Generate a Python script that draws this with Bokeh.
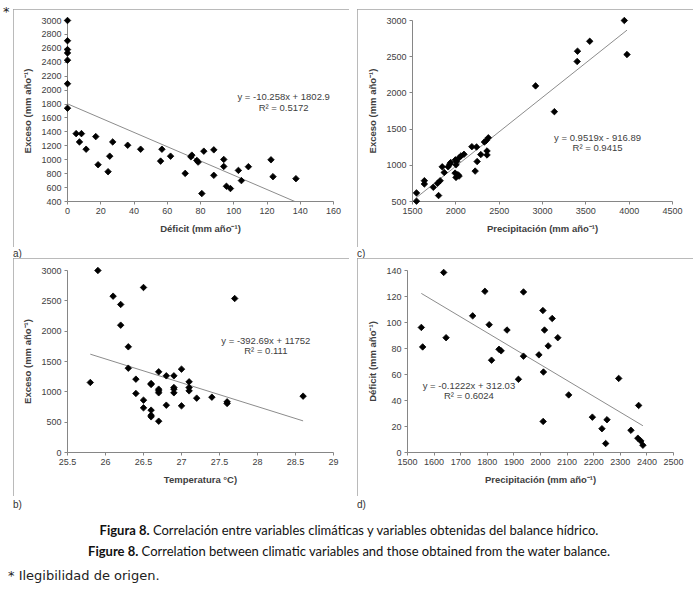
import numpy as np
from bokeh.plotting import figure
from bokeh.models import Range1d, FixedTicker, Label, Div, Spacer
from bokeh.layouts import column, row
from bokeh.embed import file_html
from bokeh.resources import INLINE

# ---------------- data ----------------
# a) Deficit vs Exceso
a_deficit = [0, 0, 0, 0, 0, 0, 0, 5.2, 8.4, 7.2, 11.2, 17, 18.4, 25.4, 24.4, 27.2, 36.2, 44,
             56.8, 56, 62, 70.8, 74.2, 74.8, 77.8, 78.6, 82, 80.8, 88, 88, 94, 94, 95.6, 98,
             102.8, 104.6, 108.8, 122.4, 123.6, 137.4]
a_exceso = [3000, 2710, 2582, 2534, 2430, 2092, 1740, 1375, 1375, 1256, 1151, 1332, 928, 1051,
            828, 1256, 1208, 1151, 1151, 980, 1051, 804, 1042, 1066, 990, 966, 1123, 514, 1142,
            776, 1004, 904, 619, 586, 847, 700, 900, 999, 757, 728]
a_slope, a_intercept = -10.258, 1802.9
a_eq, a_r2 = "y = -10.258x + 1802.9", "R² = 0.5172"
a_xticks = [0, 20, 40, 60, 80, 100, 120, 140, 160]
a_yticks = [400, 600, 800, 1000, 1200, 1400, 1600, 1800, 2000, 2200, 2400, 2600, 2800, 3000]

# c) Precipitacion vs Exceso
c_prec = [1546, 1546, 1637, 1637, 1740, 1789, 1801, 1819, 1843, 1866, 1911, 1930, 1941, 1995,
          2002, 2010, 1991, 2002, 2025, 2037, 2040, 2060, 2094, 2185, 2239, 2246, 2223, 2288,
          2330, 2352, 2375, 2360, 2360, 2920, 3137, 3400, 3404, 3545, 3944, 3975]
c_exceso = [619, 505, 787, 742, 696, 751, 582, 787, 979, 901, 979, 1015, 1038, 1075, 1006,
            1052, 892, 833, 870, 851, 1107, 1130, 1152, 1257, 1253, 1052, 920, 1148, 1321,
            1344, 1380, 1198, 1143, 2097, 1741, 2434, 2576, 2713, 3000, 2530]
c_slope, c_intercept = 0.9519, -916.89
c_eq, c_r2 = "y = 0.9519x - 916.89", "R² = 0.9415"
c_xticks = [1500, 2000, 2500, 3000, 3500, 4000, 4500]
c_yticks = [500, 1000, 1500, 2000, 2500, 3000]

# b) Temperatura vs Exceso
b_temp = [25.8, 25.9, 26.1, 26.2, 26.2, 26.3, 26.3, 26.4, 26.4, 26.5, 26.5, 26.5, 26.6, 26.6,
          26.6, 26.6, 26.6, 26.7, 26.7, 26.7, 26.7, 26.7, 26.8, 26.8, 26.9, 26.9, 26.9, 26.9,
          27.0, 27.0, 27.1, 27.1, 27.1, 27.2, 27.4, 27.6, 27.6, 27.7, 28.6]
b_exceso = [1154, 3000, 2577, 2440, 2099, 1742, 1390, 1209, 973, 2720, 863, 736, 1137, 1121,
            698, 615, 588, 1330, 1044, 1016, 984, 516, 1264, 780, 1264, 1071, 1044, 984, 1374,
            769, 1165, 1071, 1016, 896, 912, 835, 808, 2538, 929]
b_slope, b_intercept = -392.69, 11752
b_eq, b_r2 = "y = -392.69x + 11752", "R² = 0.111"
b_xticks = [25.5, 26, 26.5, 27, 27.5, 28, 28.5, 29]
b_yticks = [0, 500, 1000, 1500, 2000, 2500, 3000]

# d) Precipitacion vs Deficit
d_prec = [1552, 1557, 1636, 1645, 1745, 1791, 1807, 1816, 1844, 1852, 1874, 1917, 1936, 1936,
          1994, 2009, 2015, 2011, 2029, 2044, 2065, 2010, 2106, 2195, 2231, 2245, 2250, 2294,
          2340, 2369, 2366, 2377, 2385]
d_deficit = [96.2, 81.2, 138.5, 88.3, 105.1, 124.0, 98.3, 71.0, 79.4, 78.2, 94.2, 56.3, 123.5,
             74.1, 75.1, 109.2, 94.2, 61.9, 82.0, 103.1, 88.3, 23.9, 44.3, 27.2, 18.3, 6.9,
             25.2, 57.0, 17.1, 36.2, 11.0, 8.9, 5.6]
d_slope, d_intercept = -0.1222, 312.03
d_eq, d_r2 = "y = -0.1222x + 312.03", "R² = 0.6024"
d_xticks = [1500, 1600, 1700, 1800, 1900, 2000, 2100, 2200, 2300, 2400, 2500]
d_yticks = [0, 20, 40, 60, 80, 100, 120, 140]

caption_es = ("Figura 8.", "Correlación entre variables climáticas y variables obtenidas del balance hídrico.")
caption_en = ("Figure 8.", "Correlation between climatic variables and those obtained from the water balance.")
footnote = "* Ilegibilidad de origen."

FONT = "Liberation Sans"
TXT = "#404040"
AXC = "#868686"


def fmt(t):
    return f"{t:g}"


def make_panel(xs, ys, xticks, yticks, xlabel, ylabel, slope, intercept, eq, r2,
               eq_pos, borders):
    left, right, top, bottom = borders
    p = figure(width=336, height=238, output_backend="svg", toolbar_location=None,
               x_range=Range1d(xticks[0], xticks[-1]), y_range=Range1d(yticks[0], yticks[-1]),
               min_border_left=left, min_border_right=right, min_border_top=top,
               min_border_bottom=bottom, margin=0)
    p.styles = {"outline": "1px solid #a3a3a3", "outline-offset": "-1px"}
    p.outline_line_color = None
    p.grid.visible = False
    p.background_fill_color = "white"
    p.border_fill_color = "white"
    for ax, ticks, lab in ((p.xaxis[0], xticks, xlabel), (p.yaxis[0], yticks, ylabel)):
        ax.ticker = FixedTicker(ticks=ticks)
        ax.major_label_overrides = {t: fmt(t) for t in ticks}
        ax.minor_tick_line_color = None
        ax.major_tick_in = 0
        ax.major_tick_out = 3
        ax.axis_line_color = AXC
        ax.major_tick_line_color = AXC
        ax.major_label_text_font = FONT
        ax.major_label_text_font_size = "9px"
        ax.major_label_text_color = TXT
        ax.major_label_standoff = 3
        ax.axis_label = lab
        ax.axis_label_text_font = FONT
        ax.axis_label_text_font_size = "9.5px"
        ax.axis_label_text_font_style = "bold"
        ax.axis_label_text_color = TXT
    p.xaxis[0].axis_label_standoff = 6
    p.yaxis[0].axis_label_standoff = 5
    x0, x1 = min(xs), max(xs)
    p.line([x0, x1], [slope * x0 + intercept, slope * x1 + intercept],
           line_color="#8c8c8c", line_width=1)
    p.scatter(xs, ys, marker="square", size=4.6, angle=np.pi / 4, angle_units="rad",
              fill_color="black", line_color="black", line_width=0.8, level="overlay")
    ex, ey1, ey2 = eq_pos
    for txt, yy in ((eq, ey1), (r2, ey2)):
        p.add_layout(Label(x=ex, y=yy, text=txt, text_align="center", text_baseline="middle",
                           text_font=FONT, text_font_size="9.5px", text_color=TXT))
    return p


pa = make_panel(a_deficit, a_exceso, a_xticks, a_yticks, "Déficit (mm año⁻¹)",
                "Exceso (mm año⁻¹)", a_slope, a_intercept, a_eq, a_r2,
                (130, 1907, 1750), (54, 16, 11, 44))
pc = make_panel(c_prec, c_exceso, c_xticks, c_yticks, "Precipitación (mm año⁻¹)",
                "Exceso (mm año⁻¹)", c_slope, c_intercept, c_eq, c_r2,
                (3635, 1390, 1239), (55, 21, 9, 46))
pb = make_panel(b_temp, b_exceso, b_xticks, b_yticks, "Temperatura °C)",
                "Exceso (mm año⁻¹)", b_slope, b_intercept, b_eq, b_r2,
                (28.11, 1852, 1687), (54, 16, 12, 44))
pd_ = make_panel(d_prec, d_deficit, d_xticks, d_yticks, "Precipitación (mm año⁻¹)",
                 "Déficit (mm año⁻¹)", d_slope, d_intercept, d_eq, d_r2,
                 (1731, 51.7, 43.8), (50, 20, 10, 44))


def small_div(txt, w, h, pad_left=0, shift=0):
    return Div(text=f'<div style="position:relative;top:{shift}px;padding-left:{pad_left}px;'
                    f'font-family:\'Liberation Sans\';font-size:10px;line-height:{h}px;'
                    f'color:#333;white-space:nowrap;">{txt}</div>',
               width=w, height=h, margin=0)


star = Div(text='<div style="position:relative;left:3px;top:3px;font-family:\'DejaVu Sans\';'
                'font-size:13px;line-height:17px;color:#222;">*</div>',
           width=699, height=9, margin=0, styles={"overflow": "visible", "z-index": "5"})

row1 = row(Spacer(width=13, height=238, margin=0), pa, Spacer(width=8, height=238, margin=0), pc,
           spacing=0, margin=0)
labs1 = row(small_div("a)", 357, 10, 13, -2), small_div("c)", 336, 10, 0, -2), spacing=0, margin=0)
row2 = row(Spacer(width=13, height=238, margin=0), pb, Spacer(width=8, height=238, margin=0), pd_,
           spacing=0, margin=0)
labs2 = row(small_div("b)", 357, 14, 13), small_div("d)", 336, 14, 0), spacing=0, margin=0)


def cap_div(parts, h):
    return Div(text=(f'<div style="width:698px;text-align:center;font-family:Lato;font-size:13px;'
                     f'line-height:{h}px;color:#111;white-space:nowrap;">'
                     f'<b>{parts[0]}</b> {parts[1]}</div>'),
               width=698, height=h, margin=0)


cap1 = cap_div(caption_es, 21)
cap2 = cap_div(caption_en, 21)
foot = Div(text=('<div style="padding-left:8px;font-family:\'DejaVu Sans\';font-size:13px;'
                 f'line-height:16px;color:#222;white-space:nowrap;">{footnote}</div>'),
           width=400, height=16, margin=0)

layout = column(star, row1, labs1,
                Spacer(height=1, width=10, margin=0), row2, labs2,
                Spacer(height=10, width=10, margin=0), cap1, cap2,
                Spacer(height=6, width=10, margin=0), foot, spacing=0, margin=0)

open("out.html", "w").write(file_html(layout, INLINE))
